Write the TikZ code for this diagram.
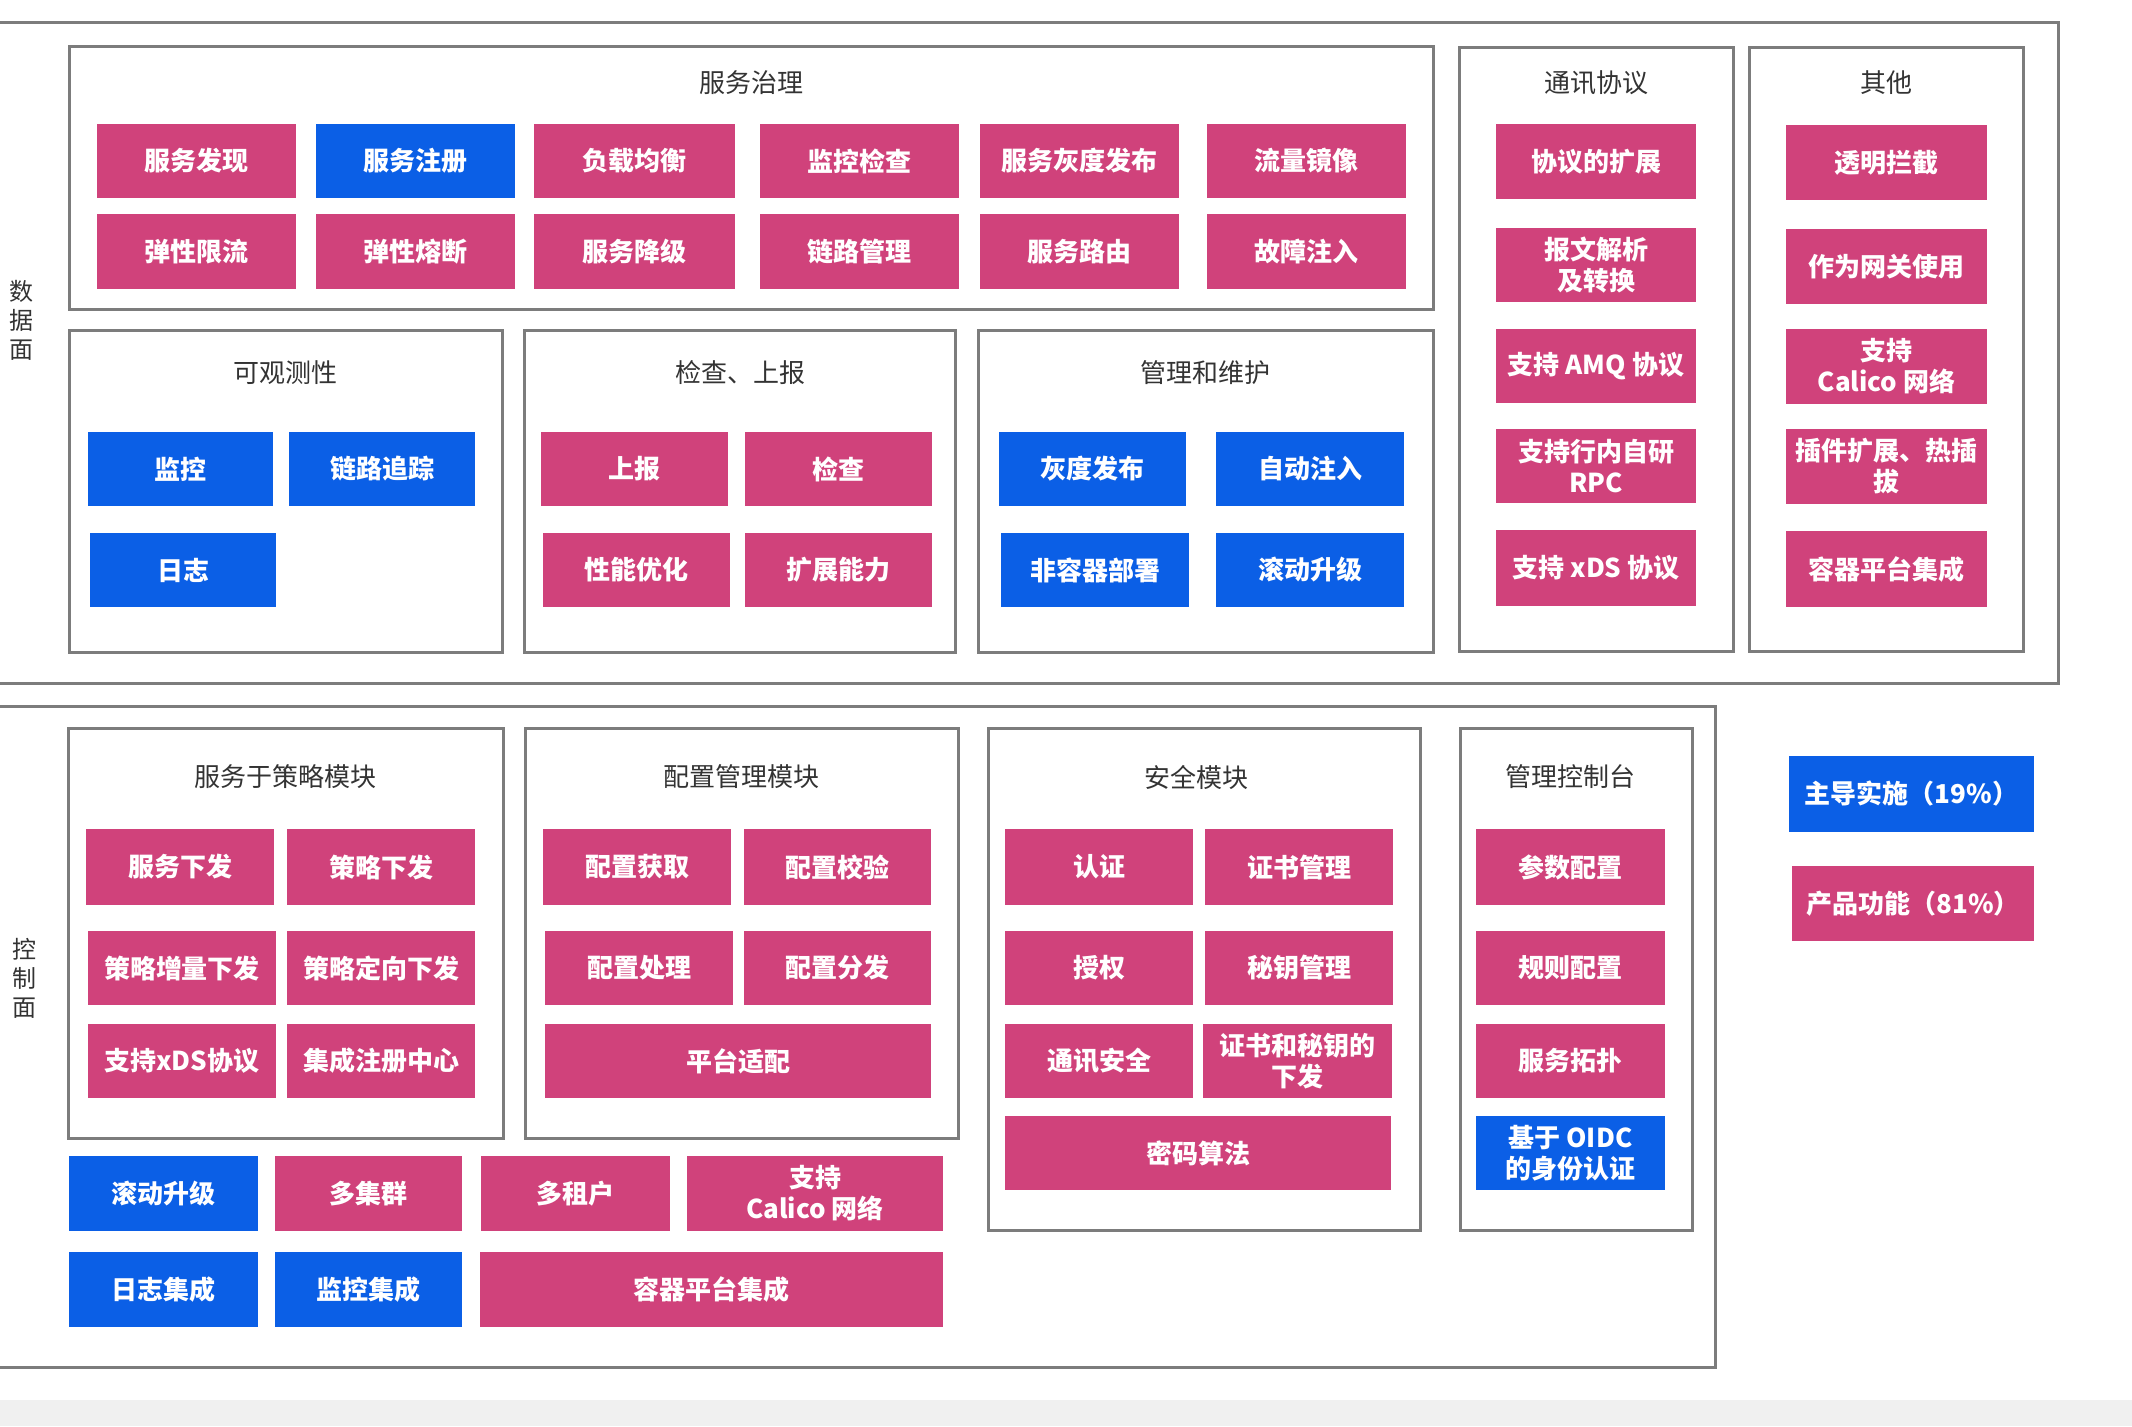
\documentclass[tikz,border=0pt]{standalone}
\usepackage{fontspec}
\setmainfont{Noto Sans CJK SC}
\definecolor{pk}{HTML}{D0427B}
\definecolor{bl}{HTML}{0B5FE6}
\definecolor{fr}{HTML}{7C7C7C}
\definecolor{tt}{HTML}{333333}
\definecolor{band}{HTML}{F0F0F0}
\tikzset{
  cell/.style={rectangle, inner sep=0pt, text=white, align=center,
    font=\fontsize{13}{15.5}\selectfont\bfseries},
  pcell/.style={cell, fill=pk},
  bcell/.style={cell, fill=bl},
  frame/.style={rectangle, inner sep=0pt, draw=fr, line width=1.5pt},
  title/.style={inner sep=0pt, text=tt, font=\fontsize{13}{15.5}\selectfont},
  side/.style={inner sep=0pt, text=tt, align=center, font=\fontsize{12}{14.5}\selectfont}
}
\newcommand\bx[7]{%
  \pgfmathsetmacro\bw{(#4-#2)*0.5}\pgfmathsetmacro\bh{(#5-#3)*0.5}%
  \node[#6, minimum width=\bw pt, minimum height=\bh pt] (#1) at ({(#2+#4)/2},{(#3+#5)/2}) {#7};}
\begin{document}
\begin{tikzpicture}[x=0.5pt,y=-0.5pt]
\useasboundingbox (0,0) rectangle (2132,1426);
\fill[band] (0,1400) rectangle (2132,1426);
% outer planes
\bx{dp}{-10}{22}{2058}{683}{frame}{}
\bx{cp}{-10}{706}{1715}{1367}{frame}{}
\node[side] (dpl) at (22,320) {数\\据\\面};
\node[side] (cpl) at (24,978) {控\\制\\面};
% ===== 服务治理
\bx{g}{69}{46}{1433}{309}{frame}{}
\node[title] (gt) at (751,83) {服务治理};
\bx{g1}{97}{124}{296}{198}{pcell}{服务发现}
\bx{g2}{316}{124}{515}{198}{bcell}{服务注册}
\bx{g3}{534}{124}{735}{198}{pcell}{负载均衡}
\bx{g4}{760}{124}{959}{198}{pcell}{监控检查}
\bx{g5}{980}{124}{1179}{198}{pcell}{服务灰度发布}
\bx{g6}{1207}{124}{1406}{198}{pcell}{流量镜像}
\bx{g7}{97}{214}{296}{289}{pcell}{弹性限流}
\bx{g8}{316}{214}{515}{289}{pcell}{弹性熔断}
\bx{g9}{534}{214}{735}{289}{pcell}{服务降级}
\bx{g10}{760}{214}{959}{289}{pcell}{链路管理}
\bx{g11}{980}{214}{1179}{289}{pcell}{服务路由}
\bx{g12}{1207}{214}{1406}{289}{pcell}{故障注入}
% ===== 可观测性
\bx{o}{69}{330}{502}{652}{frame}{}
\node[title] (ot) at (285,373) {可观测性};
\bx{o1}{88}{432}{273}{506}{bcell}{监控}
\bx{o2}{289}{432}{475}{506}{bcell}{链路追踪}
\bx{o3}{90}{533}{276}{607}{bcell}{日志}
% ===== 检查、上报
\bx{c}{524}{330}{955}{652}{frame}{}
\node[title] (ct) at (740,373) {检查、上报};
\bx{c1}{541}{432}{728}{506}{pcell}{上报}
\bx{c2}{745}{432}{932}{506}{pcell}{检查}
\bx{c3}{543}{533}{730}{607}{pcell}{性能优化}
\bx{c4}{745}{533}{932}{607}{pcell}{扩展能力}
% ===== 管理和维护
\bx{m}{978}{330}{1433}{652}{frame}{}
\node[title] (mt) at (1205,373) {管理和维护};
\bx{m1}{999}{432}{1186}{506}{bcell}{灰度发布}
\bx{m2}{1216}{432}{1404}{506}{bcell}{自动注入}
\bx{m3}{1001}{533}{1189}{607}{bcell}{非容器部署}
\bx{m4}{1216}{533}{1404}{607}{bcell}{滚动升级}
% ===== 通讯协议
\bx{p}{1459}{47}{1733}{651}{frame}{}
\node[title] (pt) at (1596,83) {通讯协议};
\bx{p1}{1496}{124}{1696}{199}{pcell}{协议的扩展}
\bx{p2}{1496}{228}{1696}{302}{pcell}{报文解析\\及转换}
\bx{p3}{1496}{329}{1696}{403}{pcell}{支持 AMQ 协议}
\bx{p4}{1496}{429}{1696}{503}{pcell}{支持行内自研\\RPC}
\bx{p5}{1496}{530}{1696}{606}{pcell}{支持 xDS 协议}
% ===== 其他
\bx{q}{1749}{47}{2023}{651}{frame}{}
\node[title] (qt) at (1886,83) {其他};
\bx{q1}{1786}{125}{1987}{200}{pcell}{透明拦截}
\bx{q2}{1786}{229}{1987}{304}{pcell}{作为网关使用}
\bx{q3}{1786}{329}{1987}{404}{pcell}{支持\\Calico 网络}
\bx{q4}{1786}{429}{1987}{504}{pcell}{插件扩展、热插\\拔}
\bx{q5}{1786}{531}{1987}{607}{pcell}{容器平台集成}
% ===== 服务于策略模块
\bx{s}{68}{728}{503}{1138}{frame}{}
\node[title] (st) at (285,777) {服务于策略模块};
\bx{s1}{86}{829}{274}{905}{pcell}{服务下发}
\bx{s2}{287}{829}{475}{905}{pcell}{策略下发}
\bx{s3}{88}{931}{276}{1005}{pcell}{策略增量下发}
\bx{s4}{287}{931}{475}{1005}{pcell}{策略定向下发}
\bx{s5}{88}{1024}{276}{1098}{pcell}{支持xDS协议}
\bx{s6}{287}{1024}{475}{1098}{pcell}{集成注册中心}
% ===== 配置管理模块
\bx{k}{525}{728}{958}{1138}{frame}{}
\node[title] (kt) at (741,777) {配置管理模块};
\bx{k1}{543}{829}{731}{905}{pcell}{配置获取}
\bx{k2}{744}{829}{931}{905}{pcell}{配置校验}
\bx{k3}{545}{931}{733}{1005}{pcell}{配置处理}
\bx{k4}{744}{931}{931}{1005}{pcell}{配置分发}
\bx{k5}{545}{1024}{931}{1098}{pcell}{平台适配}
% ===== 安全模块
\bx{a}{988}{728}{1420}{1230}{frame}{}
\node[title] (at) at (1196,777) {安全模块};
\bx{a1}{1005}{829}{1193}{905}{pcell}{认证}
\bx{a2}{1205}{829}{1393}{905}{pcell}{证书管理}
\bx{a3}{1005}{931}{1193}{1005}{pcell}{授权}
\bx{a4}{1205}{931}{1393}{1005}{pcell}{秘钥管理}
\bx{a5}{1005}{1024}{1193}{1098}{pcell}{通讯安全}
\bx{a6}{1203}{1024}{1392}{1098}{pcell}{证书和秘钥的\\下发}
\bx{a7}{1005}{1116}{1391}{1190}{pcell}{密码算法}
% ===== 管理控制台
\bx{t}{1460}{728}{1692}{1230}{frame}{}
\node[title] (tt) at (1570,777) {管理控制台};
\bx{t1}{1476}{829}{1665}{905}{pcell}{参数配置}
\bx{t2}{1476}{931}{1665}{1005}{pcell}{规则配置}
\bx{t3}{1476}{1024}{1665}{1098}{pcell}{服务拓扑}
\bx{t4}{1476}{1116}{1665}{1190}{bcell}{基于 OIDC\\的身份认证}
% ===== bottom rows
\bx{b1}{69}{1156}{258}{1231}{bcell}{滚动升级}
\bx{b2}{275}{1156}{462}{1231}{pcell}{多集群}
\bx{b3}{481}{1156}{670}{1231}{pcell}{多租户}
\bx{b4}{687}{1156}{943}{1231}{pcell}{支持\\Calico 网络}
\bx{b5}{69}{1252}{258}{1327}{bcell}{日志集成}
\bx{b6}{275}{1252}{462}{1327}{bcell}{监控集成}
\bx{b7}{480}{1252}{943}{1327}{pcell}{容器平台集成}
% ===== legend
\bx{l1}{1789}{756}{2034}{832}{bcell}{主导实施（19\%）}
\bx{l2}{1792}{866}{2034}{941}{pcell}{产品功能（81\%）}
\end{tikzpicture}
\end{document}
